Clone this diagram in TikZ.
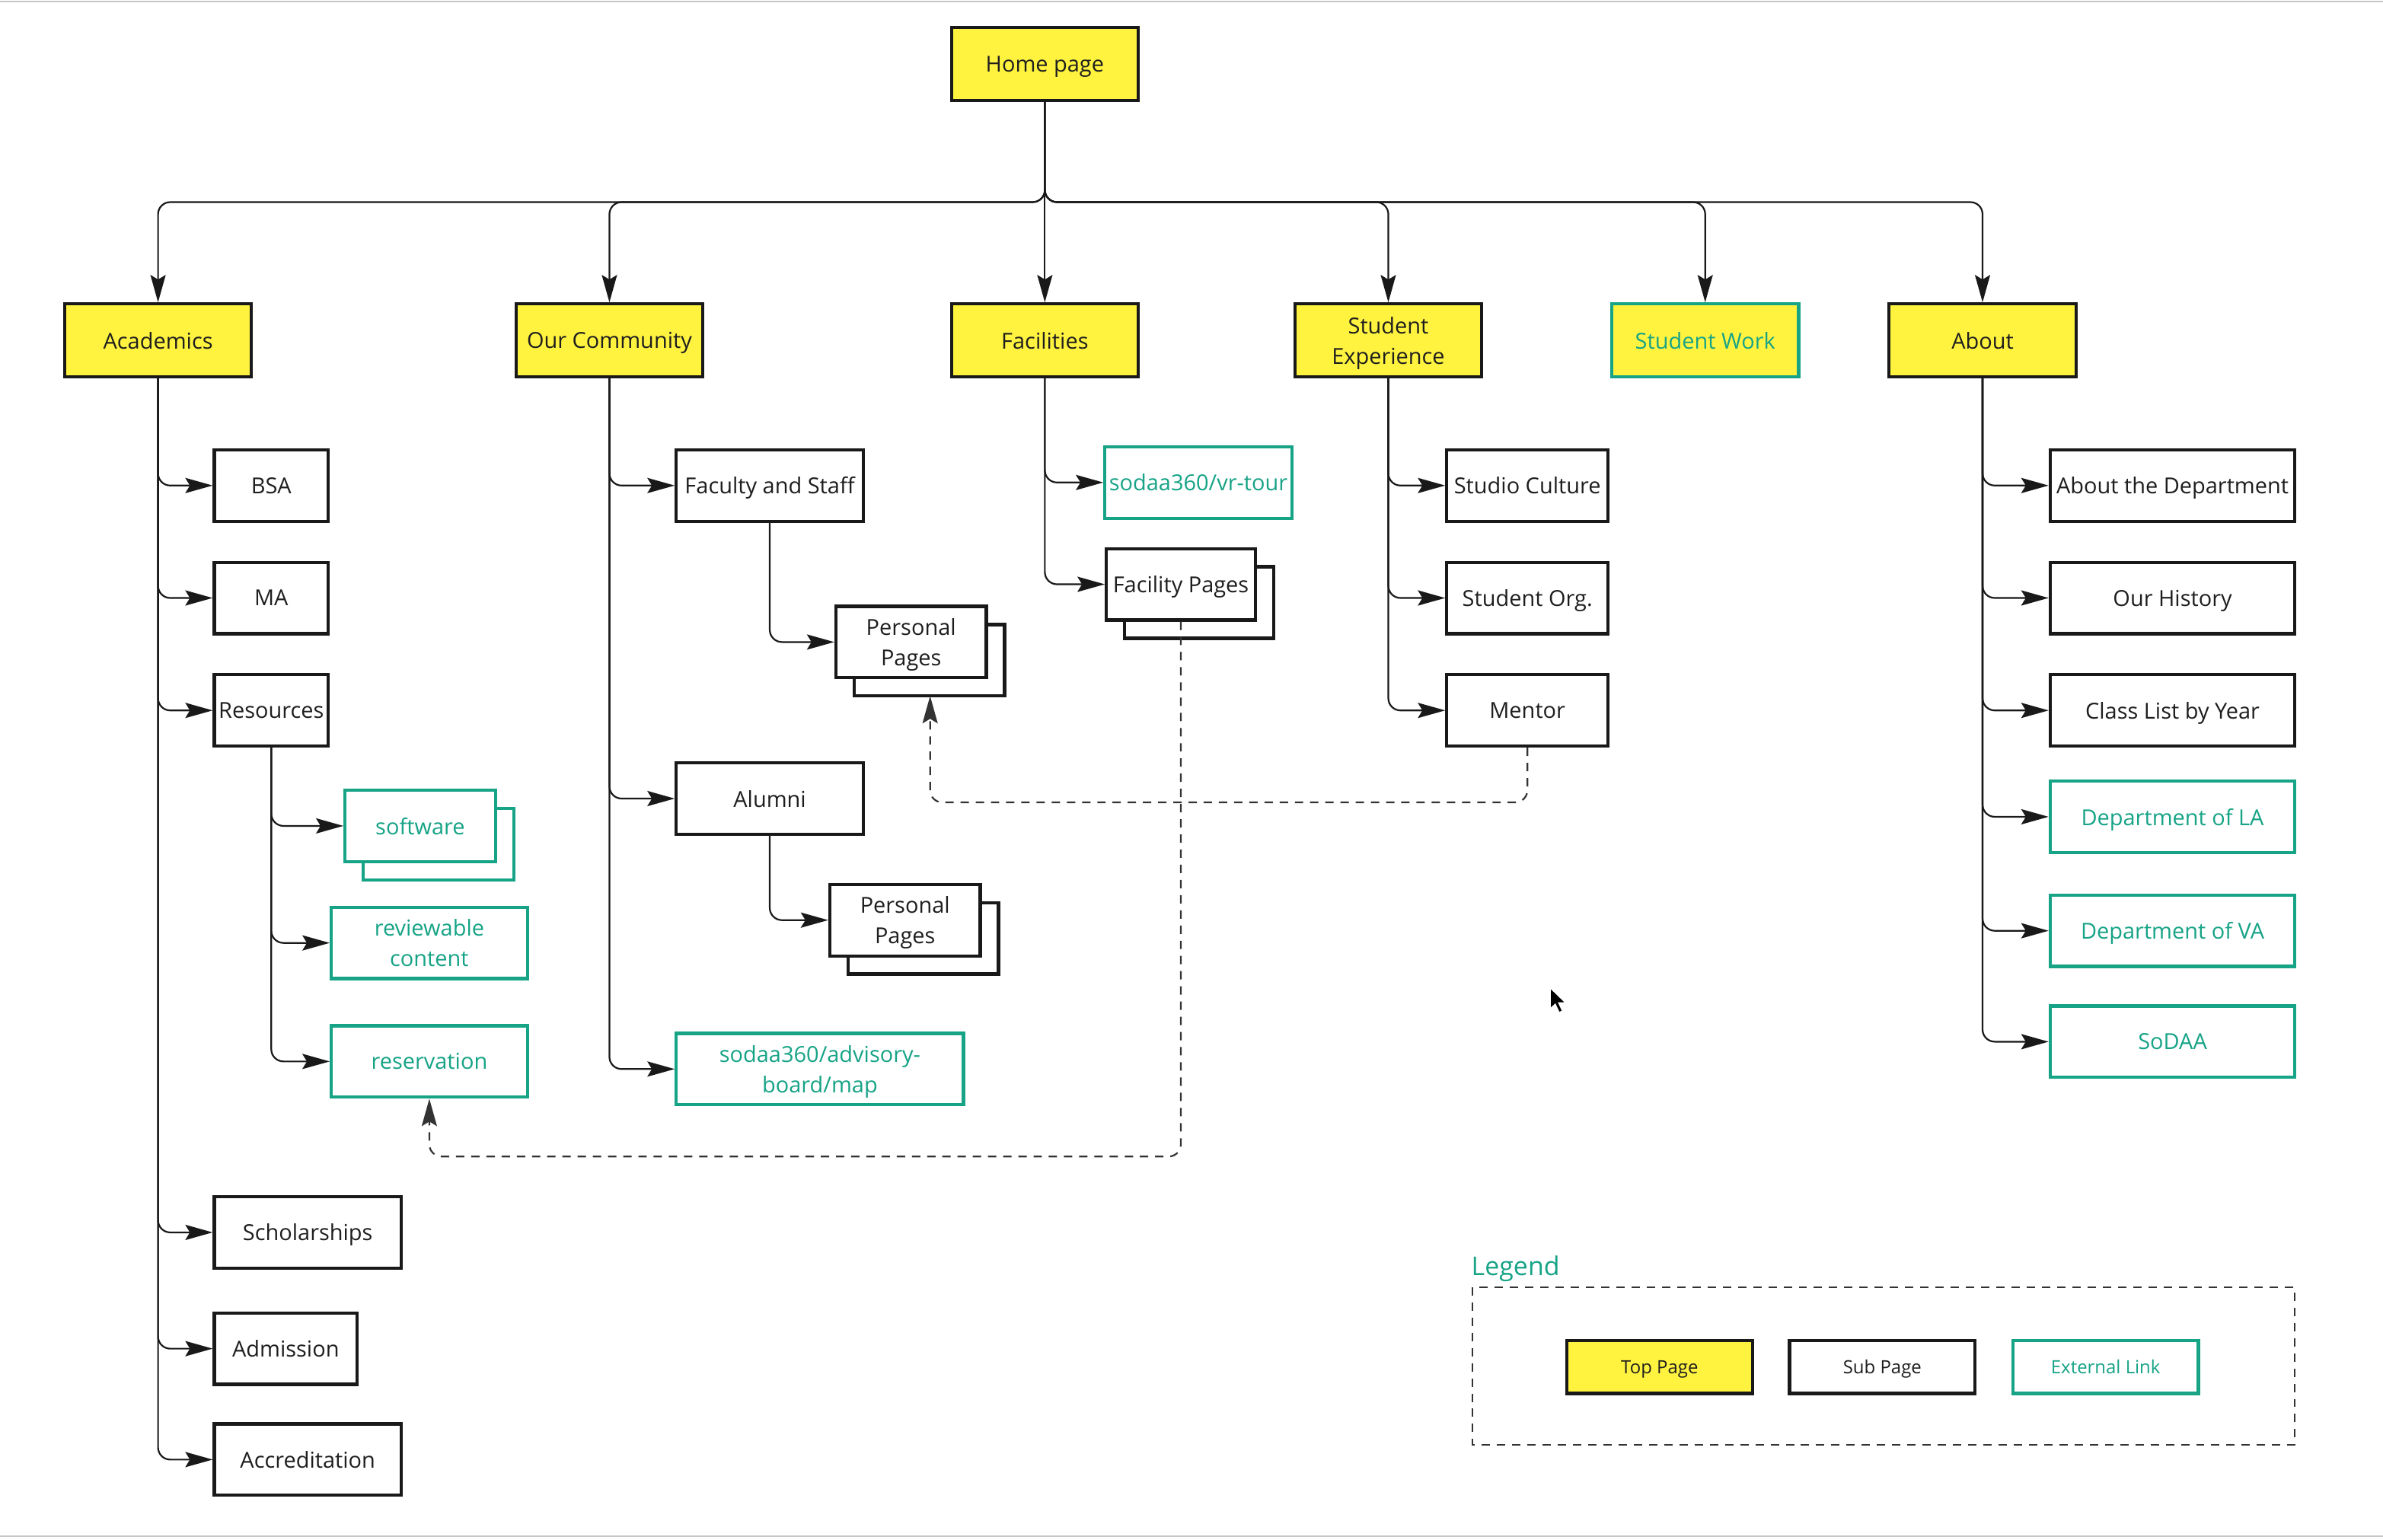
\documentclass[tikz,border=0pt]{standalone}
\usepackage{fontspec}
\setmainfont{Open Sans}
\usetikzlibrary{arrows.meta,calc}
\definecolor{ylw}{RGB}{255,243,64}
\definecolor{grn}{RGB}{22,163,134}
\definecolor{txt}{RGB}{30,30,30}
\begin{document}
\begin{tikzpicture}[x=1pt,y=-1pt,
 box/.style={rectangle, line width=2.1pt, inner sep=0pt, align=center, font=\fontsize{14.5}{20}\selectfont, text=txt, text depth=0pt},
 toppg/.style={box, draw=black!90, fill=ylw, minimum width=123, minimum height=48},
 subpg/.style={box, draw=black!90, fill=white, minimum height=47},
 extpg/.style={box, draw=grn, fill=white, text=grn, minimum height=47},
 backpg/.style={line width=2.1pt, draw=black!90, fill=white},
 conn/.style={line width=1.1pt, draw=black!90, rounded corners=8, -{Stealth[length=18pt,width=10pt,inset=3pt]}},
 dconn/.style={conn, dash pattern=on 5.5pt off 4.5pt, draw=black!80},
 legtxt/.style={font=\fontsize{12}{14}\selectfont},
]
\useasboundingbox (0,0) rectangle (1568,1013);
\fill[white] (0,0) rectangle (1568,1013);
\draw[black!22, line width=1pt] (0,1) -- (1568,1);
\draw[black!22, line width=1pt] (0,1011) -- (1568,1011);

% top level
\node[toppg] (home) at (687.5,42) {Home page};
\node[toppg] (acad) at (104,224) {Academics};
\node[toppg] (comm) at (401,224) {Our Community};
\node[toppg] (fac) at (687.5,224) {Facilities};
\node[toppg] (sexp) at (913.5,224) {Student\\Experience};
\node[toppg, draw=grn, text=grn] (swork) at (1122,224) {Student Work};
\node[toppg] (about) at (1304.5,224) {About};

\coordinate (bus) at (687.5,133);
\draw[conn] (home.south) -- (fac.north);
\draw[conn] (home.south) -- (bus) -| (acad.north);
\draw[conn] (home.south) -- (bus) -| (comm.north);
\draw[conn] (home.south) -- (bus) -| (sexp.north);
\draw[conn] (home.south) -- (bus) -| (swork.north);
\draw[conn] (home.south) -- (bus) -| (about.north);

% back boxes of stacked pages
\draw[backpg, draw=grn] (239,532) rectangle (338,579);
\draw[backpg] (562,411) rectangle (661,458);
\draw[backpg] (558,594) rectangle (657,641);
\draw[backpg] (740,373) rectangle (838,420);

% Academics
\node[subpg, minimum width=75] (bsa) at (178.5,319.5) {BSA};
\node[subpg, minimum width=75] (ma) at (178.5,393.5) {MA};
\node[subpg, minimum width=75] (res) at (178.5,467.5) {Resources};
\node[subpg, minimum width=123] (schol) at (202.5,811) {Scholarships};
\node[subpg, minimum width=94] (adm) at (188,887.5) {Admission};
\node[subpg, minimum width=123] (accr) at (202.5,960.5) {Accreditation};
\node[extpg, minimum width=99] (soft) at (276.5,543.5) {software};
\node[extpg, minimum width=129] (rev) at (282.5,620.5) {reviewable\\content};
\node[extpg, minimum width=129] (resv) at (282.5,698.5) {reservation};
\foreach \t in {bsa,ma,res,schol,adm,accr} \draw[conn] (acad.south) |- (\t.west);
\foreach \t in {soft,rev,resv} \draw[conn] (res.south) |- (\t.west);

% Our Community
\node[subpg, minimum width=123] (fs) at (506.5,319.5) {Faculty and Staff};
\node[subpg, minimum width=99] (pp1) at (599.5,422.5) {Personal\\Pages};
\node[subpg, minimum width=123] (alum) at (506.5,525.5) {Alumni};
\node[subpg, minimum width=99] (pp2) at (595.5,605.5) {Personal\\Pages};
\node[extpg, minimum width=189] (adv) at (539.5,703.5) {sodaa360/advisory-\\board/map};
\foreach \t in {fs,alum,adv} \draw[conn] (comm.south) |- (\t.west);
\draw[conn] (fs.south) |- (pp1.west);
\draw[conn] (alum.south) |- (pp2.west);

% Facilities
\node[extpg, minimum width=123] (vr) at (788.5,317.5) {sodaa360/vr-tour};
\node[subpg, minimum width=98] (facp) at (777,384.5) {Facility Pages};
\draw[conn] (fac.south) |- (vr.west);
\draw[conn] (fac.south) |- (facp.west);

% Student Experience
\node[subpg, minimum width=106] (stc) at (1005,319.5) {Studio Culture};
\node[subpg, minimum width=106] (sorg) at (1005,393.5) {Student Org.};
\node[subpg, minimum width=106] (ment) at (1005,467.5) {Mentor};
\foreach \t in {stc,sorg,ment} \draw[conn] (sexp.south) |- (\t.west);

% About
\node[subpg, minimum width=161] (atd) at (1429.5,319.5) {About the Department};
\node[subpg, minimum width=161] (hist) at (1429.5,393.5) {Our History};
\node[subpg, minimum width=161] (cly) at (1429.5,467.5) {Class List by Year};
\node[extpg, minimum width=161] (dla) at (1429.5,537.5) {Department of LA};
\node[extpg, minimum width=161] (dva) at (1429.5,612.5) {Department of VA};
\node[extpg, minimum width=161] (sodaa) at (1429.5,685.5) {SoDAA};
\foreach \t in {atd,hist,cly,dla,dva,sodaa} \draw[conn] (about.south) |- (\t.west);

% dashed cross links
\coordinate (pp1b) at (612,458);
\draw[dconn] (ment.south) |- ($(pp1b)+(0,70)$) -- (pp1b);
\draw[dconn] (facp.south) |- ($(resv.south)+(0,38)$) -- (resv.south);

% legend
\node[text=grn, font=\fontsize{17}{20}\selectfont, anchor=west, inner sep=0pt] (legt) at (968,835) {Legend};
\draw[black!80, line width=1.1pt, dash pattern=on 5.5pt off 4.5pt] (969,847) rectangle (1510,951);
\node[toppg, legtxt, minimum width=122, minimum height=35] (ltop) at (1092,899.5) {Top Page};
\node[subpg, legtxt, minimum width=122, minimum height=35] (lsub) at (1238.5,899.5) {Sub Page};
\node[extpg, legtxt, minimum width=122, minimum height=35] (lext) at (1385.5,899.5) {External Link};

% mouse cursor
\filldraw[fill=black, draw=white, line width=0.7pt] (1020,650) -- ++(0,14) -- ++(3.3,-3.2) -- ++(2.6,5.5) -- ++(2.2,-1) -- ++(-2.5,-5.4) -- ++(4.6,0) -- cycle;
\end{tikzpicture}
\end{document}
